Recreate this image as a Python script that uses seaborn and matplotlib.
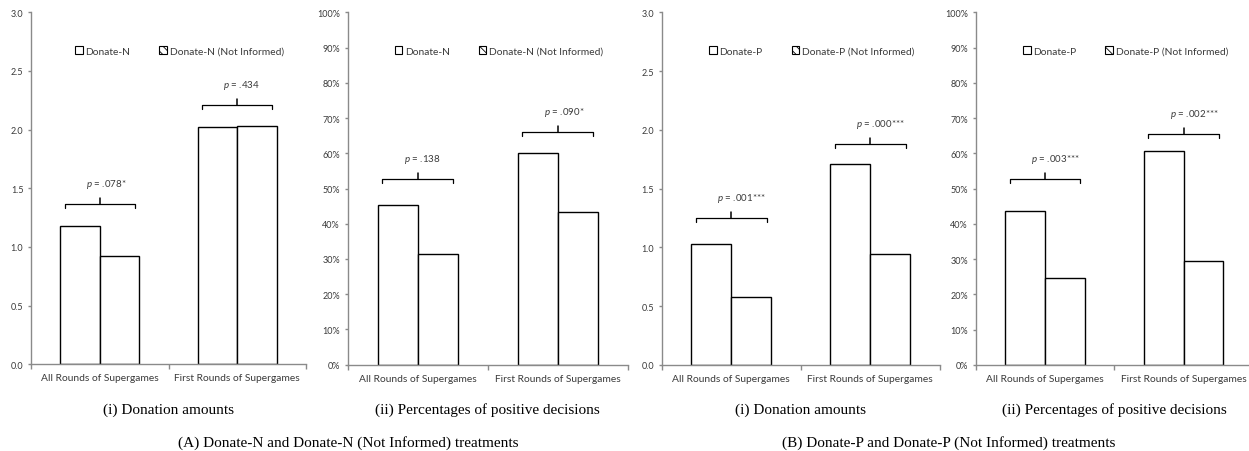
import matplotlib
matplotlib.use("Agg")
import matplotlib.pyplot as plt
from matplotlib.patches import Patch
from matplotlib.ticker import FixedLocator, FuncFormatter, NullFormatter
import pandas as pd
import seaborn as sns

# ---- data -----------------------------------------------------------------
rounds = ["All Rounds of Supergames", "First Rounds of Supergames"]

treat_n = "Donate-N"
treat_n_ni = "Donate-N (Not Informed)"
treat_p = "Donate-P"
treat_p_ni = "Donate-P (Not Informed)"

amount_n = [1.18, 2.02]
amount_n_ni = [0.92, 2.03]
positive_n = [45.2, 60.0]
positive_n_ni = [31.5, 43.3]

amount_p = [1.03, 1.71]
amount_p_ni = [0.58, 0.94]
positive_p = [43.8, 60.6]
positive_p_ni = [24.6, 29.5]

pvals_amount_n = ["$p$ = .078*", "$p$ = .434"]
pvals_positive_n = ["$p$ = .138", "$p$ = .090*"]
pvals_amount_p = ["$p$ = .001***", "$p$ = .000***"]
pvals_positive_p = ["$p$ = .003***", "$p$ = .002***"]

subtitles = ["(i) Donation amounts", "(ii) Percentages of positive decisions"]
block_titles = ["(A) Donate-N and Donate-N (Not Informed) treatments",
                "(B) Donate-P and Donate-P (Not Informed) treatments"]

# ---- style ----------------------------------------------------------------
sns.set_theme(style="white")
plt.rcParams["font.family"] = ["Lato", "DejaVu Sans"]
plt.rcParams["mathtext.fontset"] = "custom"
plt.rcParams["mathtext.it"] = "Lato:italic"
plt.rcParams["mathtext.rm"] = "Lato"
plt.rcParams["hatch.linewidth"] = 0.6

W, H = 1249, 452
DPI = 100
fig = plt.figure(figsize=(W / DPI, H / DPI), dpi=DPI)

AXIS_GREY = "#8a8a8a"
TEXT_GREY = "#3a3a3a"
FS = 7

# axes boxes in pixels: left, width, bottom(y from top), top(y from top)
boxes = [(31, 275, 365.3, 13.3), (347.7, 280, 365.7, 13.3),
         (661.7, 278, 366, 13.3), (975.7, 277.3, 366, 13.3)]

# height of each comparison bracket, in data units
bracket_levels = [[1.366, 2.21], [52.7, 66.1], [1.252, 1.880], [52.8, 65.6]]

panels = [
    (treat_n, treat_n_ni, amount_n, amount_n_ni, pvals_amount_n, "amount"),
    (treat_n, treat_n_ni, positive_n, positive_n_ni, pvals_positive_n, "percent"),
    (treat_p, treat_p_ni, amount_p, amount_p_ni, pvals_amount_p, "amount"),
    (treat_p, treat_p_ni, positive_p, positive_p_ni, pvals_positive_p, "percent"),
]

for i, (t1, t2, v1, v2, pv, kind) in enumerate(panels):
    left, width, ybot, ytop = boxes[i]
    ax = fig.add_axes([left / W, (H - ybot) / H, width / W, (ybot - ytop) / H])

    df = pd.DataFrame({
        "round": rounds * 2,
        "treatment": [t1] * len(rounds) + [t2] * len(rounds),
        "value": list(v1) + list(v2),
    })
    sns.barplot(data=df, x="round", y="value", hue="treatment",
                order=rounds, hue_order=[t1, t2],
                palette=["white", "white"], edgecolor="black", linewidth=1.0,
                width=0.572, errorbar=None, legend=False, ax=ax)

    if kind == "amount":
        ax.set_ylim(0, 3.0)
        ax.yaxis.set_major_locator(FixedLocator([0, 0.5, 1.0, 1.5, 2.0, 2.5, 3.0]))
        ax.yaxis.set_major_formatter(FuncFormatter(lambda v, _: f"{v:.1f}"))
    else:
        ax.set_ylim(0, 100)
        ax.yaxis.set_major_locator(FixedLocator(list(range(0, 101, 10))))
        ax.yaxis.set_major_formatter(FuncFormatter(lambda v, _: f"{v:.0f}%"))
    ax.set_xlim(-0.5, 1.5)

    ax.set_xlabel("")
    ax.set_ylabel("")
    for s in ["top", "right"]:
        ax.spines[s].set_visible(False)
    for s in ["left", "bottom"]:
        ax.spines[s].set_color(AXIS_GREY)
        ax.spines[s].set_linewidth(1.0)

    ax.xaxis.set_minor_locator(FixedLocator([-0.5, 0.5, 1.5]))
    ax.xaxis.set_minor_formatter(NullFormatter())
    ax.tick_params(axis="x", which="major", length=0, pad=6.5,
                   labelsize=7.4, labelcolor=TEXT_GREY)
    ax.tick_params(axis="x", which="minor", bottom=True, length=3.5,
                   width=1.0, color=AXIS_GREY, direction="out")
    ax.tick_params(axis="y", which="major", left=True, length=2.5, width=1.0,
                   color=AXIS_GREY, direction="out", pad=3,
                   labelsize=FS - 0.5, labelcolor=TEXT_GREY)

    # legend
    handles = [Patch(facecolor="white", edgecolor="black", linewidth=0.8, label=t1),
               Patch(facecolor="white", edgecolor="black", linewidth=0.8,
                     hatch="\\\\\\\\", label=t2)]
    ax.legend(handles=handles, loc="center", bbox_to_anchor=(0.54, 0.89),
              ncol=2, frameon=False, fontsize=7.4, handlelength=0.75,
              handleheight=0.75, handletextpad=0.25, columnspacing=2.8,
              labelcolor=TEXT_GREY)

    # significance brackets
    y0, y1 = ax.get_ylim()
    per_px = (y1 - y0) / (ybot - ytop)
    for j, label in enumerate(pv):
        yb = bracket_levels[i][j]
        xl, xr = j - 0.255, j + 0.255
        drop = 4.3 * per_px
        rise = 6.0 * per_px
        ax.plot([xl, xl, xr, xr], [yb - drop, yb, yb, yb - drop],
                color="black", lw=0.9, solid_joinstyle="round")
        ax.plot([j, j], [yb, yb + rise], color="black", lw=1.1)
        ax.annotate(label, xy=(j, yb), xytext=(-10.0, 14.5),
                    textcoords="offset points", ha="left", va="center",
                    fontsize=FS, color=TEXT_GREY)

    # panel subtitle
    fig.text((left + width / 2) / W, 1 - 410 / H, subtitles[i % 2],
             ha="center", va="center", fontsize=11,
             family=["Liberation Serif", "DejaVu Serif"], color="black")

fig.text(348 / W, 1 - 443 / H, block_titles[0], ha="center", va="center",
         fontsize=11, family=["Liberation Serif", "DejaVu Serif"], color="black")
fig.text(949 / W, 1 - 443 / H, block_titles[1], ha="center", va="center",
         fontsize=11, family=["Liberation Serif", "DejaVu Serif"], color="black")

fig.savefig("out.png", dpi=DPI, facecolor="white")
